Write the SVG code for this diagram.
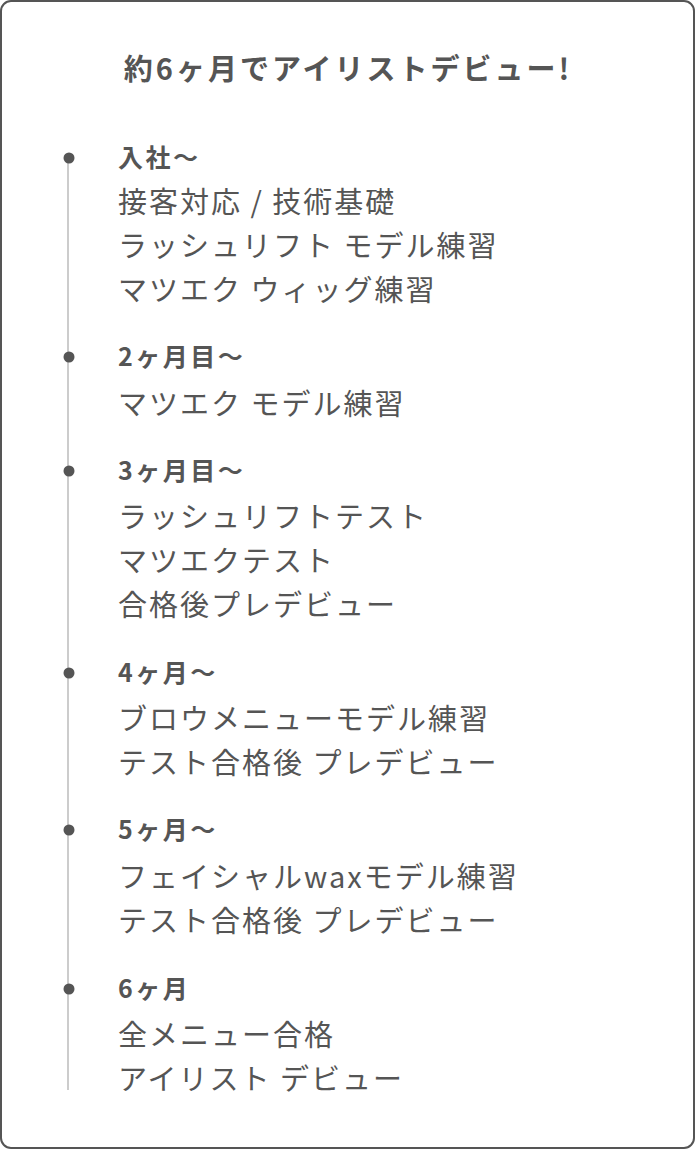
<svg xmlns="http://www.w3.org/2000/svg" width="696" height="1150" viewBox="0 0 696 1150">
<style>
text{font-family:"Noto Sans CJK JP","Noto Sans",sans-serif;fill:#555}
.t{font-size:29px;font-weight:bold;letter-spacing:3px}
.h{font-size:25px;font-weight:bold;letter-spacing:2.5px}
.b{font-size:29px;letter-spacing:2px}
.dot{fill:#555}
</style>
<rect x="1" y="1" width="693" height="1147" rx="10" fill="#fff" stroke="#555" stroke-width="2"/>
<text class="t" x="348" y="80" text-anchor="middle">約6ヶ月でアイリストデビュー!</text>
<g id="connectors"><line x1="68" y1="158" x2="68" y2="1090" stroke="#ccc" stroke-width="2"/></g>
<g id="n1"><circle class="dot" cx="69" cy="158" r="5.5"/>
<text class="h" x="118" y="167">入社〜</text>
<text class="b" x="118" y="213">接客対応 / 技術基礎</text>
<text class="b" x="118" y="257">ラッシュリフト モデル練習</text>
<text class="b" x="118" y="301">マツエク ウィッグ練習</text></g>
<g id="n2"><circle class="dot" cx="69" cy="357" r="5.5"/>
<text class="h" x="118" y="366">2ヶ月目〜</text>
<text class="b" x="118" y="415">マツエク モデル練習</text></g>
<g id="n3"><circle class="dot" cx="69" cy="471" r="5.5"/>
<text class="h" x="118" y="480">3ヶ月目〜</text>
<text class="b" x="118" y="528">ラッシュリフトテスト</text>
<text class="b" x="118" y="572">マツエクテスト</text>
<text class="b" x="118" y="616">合格後プレデビュー</text></g>
<g id="n4"><circle class="dot" cx="69" cy="673" r="5.5"/>
<text class="h" x="118" y="682">4ヶ月〜</text>
<text class="b" x="118" y="730">ブロウメニューモデル練習</text>
<text class="b" x="118" y="774">テスト合格後 プレデビュー</text></g>
<g id="n5"><circle class="dot" cx="69" cy="830" r="5.5"/>
<text class="h" x="118" y="839">5ヶ月〜</text>
<text class="b" x="118" y="888">フェイシャルwaxモデル練習</text>
<text class="b" x="118" y="932">テスト合格後 プレデビュー</text></g>
<g id="n6"><circle class="dot" cx="69" cy="989" r="5.5"/>
<text class="h" x="118" y="998">6ヶ月</text>
<text class="b" x="118" y="1046">全メニュー合格</text>
<text class="b" x="118" y="1090">アイリスト デビュー</text></g>
</svg>
